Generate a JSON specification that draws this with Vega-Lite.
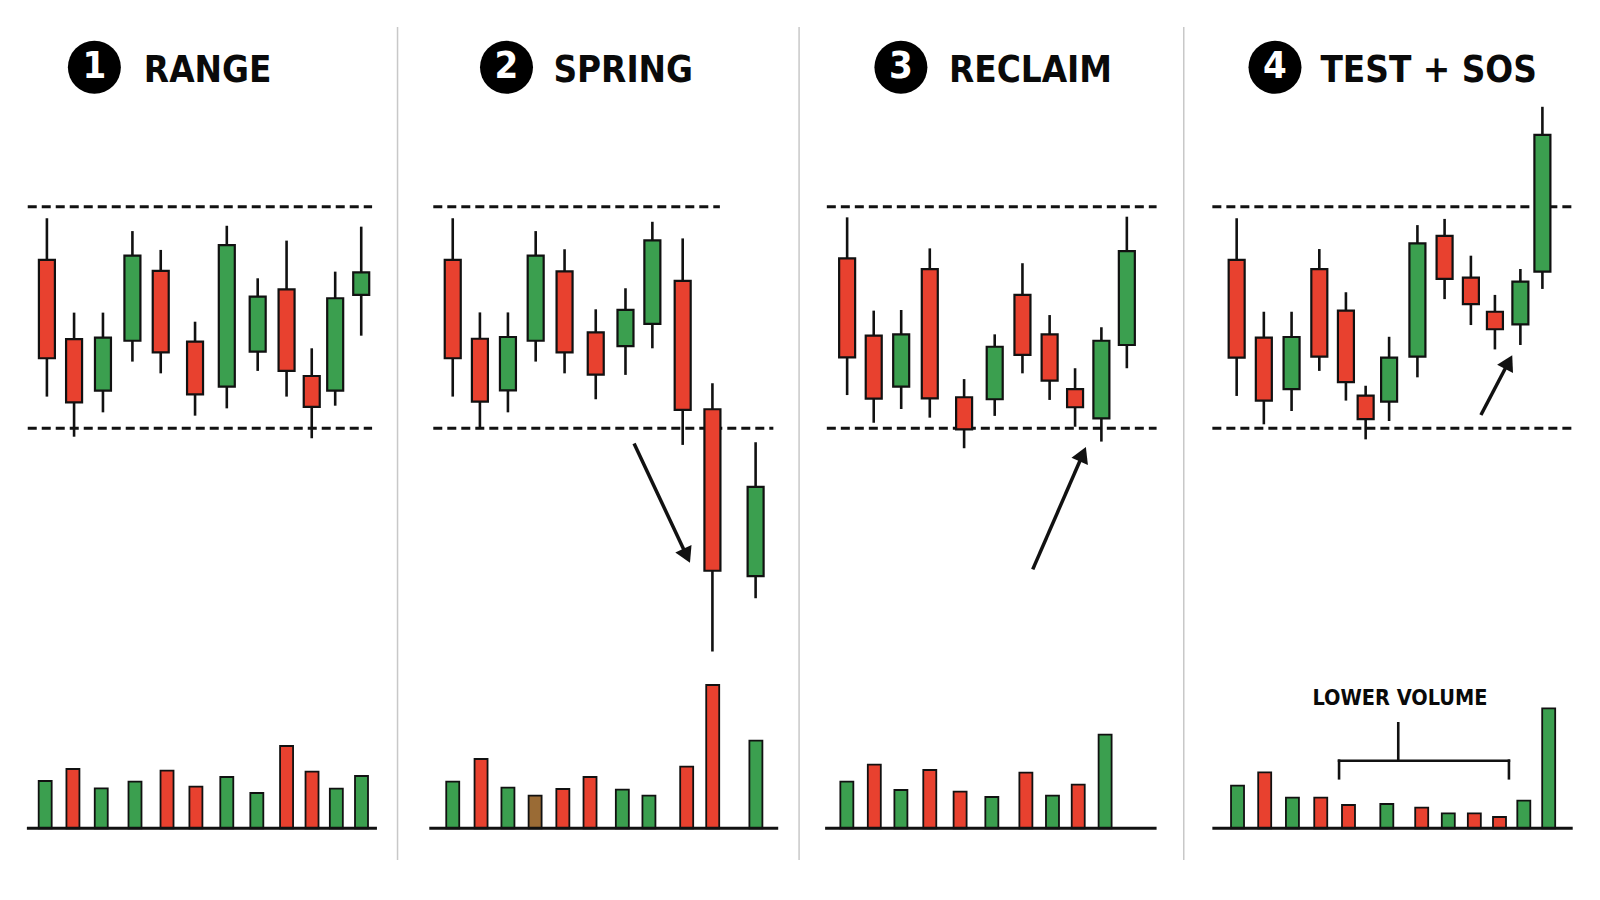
{
  "$schema": "https://vega.github.io/schema/vega-lite/v6.json",
  "width": 1600,
  "height": 900,
  "padding": 0,
  "autosize": {"type": "none"},
  "background": "white",
  "config": {"view": {"stroke": null}, "scale": {"continuousPadding": 0}},
  "datasets": {
    "candles": [
      {"panel": 1, "t": 1.64, "open": 107.60, "close": 103.16, "high": 109.48, "low": 101.43, "dir": "down"},
      {"panel": 1, "t": 2.59, "open": 104.02, "close": 101.17, "high": 105.22, "low": 99.62, "dir": "down"},
      {"panel": 1, "t": 3.60, "open": 101.70, "close": 104.09, "high": 105.22, "low": 100.72, "dir": "up"},
      {"panel": 1, "t": 4.63, "open": 103.95, "close": 107.79, "high": 108.90, "low": 103.01, "dir": "up"},
      {"panel": 1, "t": 5.62, "open": 107.10, "close": 103.43, "high": 108.05, "low": 102.48, "dir": "down"},
      {"panel": 1, "t": 6.82, "open": 103.91, "close": 101.53, "high": 104.81, "low": 100.57, "dir": "down"},
      {"panel": 1, "t": 7.93, "open": 101.88, "close": 108.27, "high": 109.14, "low": 100.90, "dir": "up"},
      {"panel": 1, "t": 9.01, "open": 103.46, "close": 105.94, "high": 106.77, "low": 102.59, "dir": "up"},
      {"panel": 1, "t": 10.02, "open": 106.27, "close": 102.59, "high": 108.47, "low": 101.43, "dir": "down"},
      {"panel": 1, "t": 10.90, "open": 102.36, "close": 100.97, "high": 103.61, "low": 99.55, "dir": "down"},
      {"panel": 1, "t": 11.72, "open": 101.70, "close": 105.87, "high": 107.07, "low": 101.02, "dir": "up"},
      {"panel": 1, "t": 12.63, "open": 106.02, "close": 107.04, "high": 109.10, "low": 104.18, "dir": "up"},
      {"panel": 2, "t": 15.83, "open": 107.60, "close": 103.16, "high": 109.48, "low": 101.43, "dir": "down"},
      {"panel": 2, "t": 16.78, "open": 104.04, "close": 101.20, "high": 105.23, "low": 100.00, "dir": "down"},
      {"panel": 2, "t": 17.76, "open": 101.71, "close": 104.12, "high": 105.23, "low": 100.72, "dir": "up"},
      {"panel": 2, "t": 18.73, "open": 103.95, "close": 107.79, "high": 108.90, "low": 103.01, "dir": "up"},
      {"panel": 2, "t": 19.74, "open": 107.08, "close": 103.43, "high": 108.08, "low": 102.48, "dir": "down"},
      {"panel": 2, "t": 20.83, "open": 104.33, "close": 102.42, "high": 105.37, "low": 101.31, "dir": "down"},
      {"panel": 2, "t": 21.87, "open": 103.71, "close": 105.34, "high": 106.32, "low": 102.41, "dir": "up"},
      {"panel": 2, "t": 22.81, "open": 104.71, "close": 108.48, "high": 109.32, "low": 103.61, "dir": "up"},
      {"panel": 2, "t": 23.87, "open": 106.65, "close": 100.83, "high": 108.57, "low": 99.25, "dir": "down"},
      {"panel": 2, "t": 24.91, "open": 100.86, "close": 93.57, "high": 102.03, "low": 89.92, "dir": "down"},
      {"panel": 2, "t": 26.42, "open": 93.33, "close": 97.36, "high": 99.37, "low": 92.33, "dir": "up"},
      {"panel": 3, "t": 29.62, "open": 107.67, "close": 103.20, "high": 109.52, "low": 101.50, "dir": "down"},
      {"panel": 3, "t": 30.55, "open": 104.18, "close": 101.34, "high": 105.31, "low": 100.25, "dir": "down"},
      {"panel": 3, "t": 31.51, "open": 101.88, "close": 104.24, "high": 105.34, "low": 100.87, "dir": "up"},
      {"panel": 3, "t": 32.51, "open": 107.18, "close": 101.35, "high": 108.12, "low": 100.48, "dir": "down"},
      {"panel": 3, "t": 33.71, "open": 101.40, "close": 99.95, "high": 102.22, "low": 99.10, "dir": "down"},
      {"panel": 3, "t": 34.78, "open": 101.31, "close": 103.68, "high": 104.24, "low": 100.56, "dir": "up"},
      {"panel": 3, "t": 35.75, "open": 106.02, "close": 103.31, "high": 107.45, "low": 102.48, "dir": "down"},
      {"panel": 3, "t": 36.70, "open": 104.24, "close": 102.15, "high": 105.11, "low": 101.28, "dir": "down"},
      {"panel": 3, "t": 37.59, "open": 101.77, "close": 100.95, "high": 102.71, "low": 100.07, "dir": "down"},
      {"panel": 3, "t": 38.51, "open": 100.45, "close": 103.95, "high": 104.56, "low": 99.40, "dir": "up"},
      {"panel": 3, "t": 39.40, "open": 103.76, "close": 108.00, "high": 109.55, "low": 102.71, "dir": "up"},
      {"panel": 4, "t": 43.24, "open": 107.60, "close": 103.19, "high": 109.48, "low": 101.46, "dir": "down"},
      {"panel": 4, "t": 44.19, "open": 104.09, "close": 101.25, "high": 105.26, "low": 100.18, "dir": "down"},
      {"panel": 4, "t": 45.16, "open": 101.77, "close": 104.12, "high": 105.26, "low": 100.78, "dir": "up"},
      {"panel": 4, "t": 46.13, "open": 107.18, "close": 103.23, "high": 108.09, "low": 102.59, "dir": "down"},
      {"panel": 4, "t": 47.06, "open": 105.31, "close": 102.08, "high": 106.14, "low": 101.25, "dir": "down"},
      {"panel": 4, "t": 47.75, "open": 101.47, "close": 100.41, "high": 101.92, "low": 99.50, "dir": "down"},
      {"panel": 4, "t": 48.57, "open": 101.20, "close": 103.19, "high": 104.13, "low": 100.33, "dir": "up"},
      {"panel": 4, "t": 49.56, "open": 103.23, "close": 108.35, "high": 109.17, "low": 102.30, "dir": "up"},
      {"panel": 4, "t": 50.51, "open": 108.68, "close": 106.74, "high": 109.45, "low": 105.83, "dir": "down"},
      {"panel": 4, "t": 51.43, "open": 106.80, "close": 105.60, "high": 107.79, "low": 104.66, "dir": "down"},
      {"panel": 4, "t": 52.27, "open": 105.26, "close": 104.47, "high": 106.02, "low": 103.56, "dir": "down"},
      {"panel": 4, "t": 53.16, "open": 104.69, "close": 106.62, "high": 107.19, "low": 103.76, "dir": "up"},
      {"panel": 4, "t": 53.93, "open": 107.07, "close": 113.24, "high": 114.51, "low": 106.29, "dir": "up"}
    ],
    "volume": [
      {"panel": 1, "t": 1.58, "vol": 47.3, "dir": "up"},
      {"panel": 1, "t": 2.55, "vol": 59.3, "dir": "down"},
      {"panel": 1, "t": 3.54, "vol": 40.0, "dir": "up"},
      {"panel": 1, "t": 4.72, "vol": 46.6, "dir": "up"},
      {"panel": 1, "t": 5.84, "vol": 57.6, "dir": "down"},
      {"panel": 1, "t": 6.85, "vol": 41.6, "dir": "down"},
      {"panel": 1, "t": 7.93, "vol": 51.3, "dir": "up"},
      {"panel": 1, "t": 8.98, "vol": 35.3, "dir": "up"},
      {"panel": 1, "t": 10.02, "vol": 82.3, "dir": "down"},
      {"panel": 1, "t": 10.91, "vol": 56.6, "dir": "down"},
      {"panel": 1, "t": 11.76, "vol": 39.6, "dir": "up"},
      {"panel": 1, "t": 12.64, "vol": 52.3, "dir": "up"},
      {"panel": 2, "t": 15.83, "vol": 46.6, "dir": "up"},
      {"panel": 2, "t": 16.82, "vol": 69.3, "dir": "down"},
      {"panel": 2, "t": 17.76, "vol": 40.6, "dir": "up"},
      {"panel": 2, "t": 18.71, "vol": 32.6, "dir": "flat"},
      {"panel": 2, "t": 19.68, "vol": 39.3, "dir": "down"},
      {"panel": 2, "t": 20.63, "vol": 51.3, "dir": "down"},
      {"panel": 2, "t": 21.76, "vol": 38.6, "dir": "up"},
      {"panel": 2, "t": 22.69, "vol": 32.6, "dir": "up"},
      {"panel": 2, "t": 24.01, "vol": 61.6, "dir": "down"},
      {"panel": 2, "t": 24.92, "vol": 143.3, "dir": "down"},
      {"panel": 2, "t": 26.43, "vol": 87.6, "dir": "up"},
      {"panel": 3, "t": 29.61, "vol": 46.6, "dir": "up"},
      {"panel": 3, "t": 30.57, "vol": 63.6, "dir": "down"},
      {"panel": 3, "t": 31.50, "vol": 38.3, "dir": "up"},
      {"panel": 3, "t": 32.51, "vol": 58.3, "dir": "down"},
      {"panel": 3, "t": 33.57, "vol": 36.6, "dir": "down"},
      {"panel": 3, "t": 34.68, "vol": 31.3, "dir": "up"},
      {"panel": 3, "t": 35.87, "vol": 55.6, "dir": "down"},
      {"panel": 3, "t": 36.80, "vol": 32.6, "dir": "up"},
      {"panel": 3, "t": 37.70, "vol": 43.6, "dir": "down"},
      {"panel": 3, "t": 38.64, "vol": 93.6, "dir": "up"},
      {"panel": 4, "t": 43.27, "vol": 42.6, "dir": "up"},
      {"panel": 4, "t": 44.22, "vol": 56.0, "dir": "down"},
      {"panel": 4, "t": 45.19, "vol": 30.6, "dir": "up"},
      {"panel": 4, "t": 46.18, "vol": 30.6, "dir": "down"},
      {"panel": 4, "t": 47.15, "vol": 23.3, "dir": "down"},
      {"panel": 4, "t": 48.49, "vol": 24.3, "dir": "up"},
      {"panel": 4, "t": 49.71, "vol": 20.6, "dir": "down"},
      {"panel": 4, "t": 50.64, "vol": 15.0, "dir": "up"},
      {"panel": 4, "t": 51.55, "vol": 15.0, "dir": "down"},
      {"panel": 4, "t": 52.43, "vol": 11.3, "dir": "down"},
      {"panel": 4, "t": 53.28, "vol": 27.6, "dir": "up"},
      {"panel": 4, "t": 54.15, "vol": 120.0, "dir": "up"}
    ],
    "levels": [
      {"panel": 1, "level": "resistance", "t0": 0.97, "t1": 13.01, "price": 110},
      {"panel": 1, "level": "support", "t0": 0.97, "t1": 13.01, "price": 100},
      {"panel": 2, "level": "resistance", "t0": 15.15, "t1": 25.17, "price": 110},
      {"panel": 2, "level": "support", "t0": 15.15, "t1": 27.04, "price": 100},
      {"panel": 3, "level": "resistance", "t0": 28.91, "t1": 40.44, "price": 110},
      {"panel": 3, "level": "support", "t0": 28.91, "t1": 40.44, "price": 100},
      {"panel": 4, "level": "resistance", "t0": 42.39, "t1": 55.01, "price": 110},
      {"panel": 4, "level": "support", "t0": 42.39, "t1": 55.01, "price": 100}
    ],
    "baselines": [
      {"panel": 1, "t0": 0.94, "t1": 13.18},
      {"panel": 2, "t0": 15.01, "t1": 27.21},
      {"panel": 3, "t0": 28.85, "t1": 40.44},
      {"panel": 4, "t0": 42.39, "t1": 54.99}
    ],
    "separators": [
      {"t": 13.90, "p0": 80.52, "p1": 118.11},
      {"t": 27.94, "p0": 80.52, "p1": 118.11},
      {"t": 41.39, "p0": 80.52, "p1": 118.11}
    ],
    "titles": [
      {"panel": 1, "num": "1", "label": "RANGE", "t": 3.30, "tl": 5.03, "price": 116.29, "base": 115.63},
      {"panel": 2, "num": "2", "label": "SPRING", "t": 17.71, "tl": 19.35, "price": 116.29, "base": 115.63},
      {"panel": 3, "num": "3", "label": "RECLAIM", "t": 31.50, "tl": 33.18, "price": 116.29, "base": 115.63},
      {"panel": 4, "num": "4", "label": "TEST + SOS", "t": 44.58, "tl": 46.17, "price": 116.29, "base": 115.63}
    ],
    "arrows": [
      {"panel": 2, "t0": 22.17, "p0": 99.31, "t1": 24.01, "p1": 94.25},
      {"panel": 3, "t0": 36.11, "p0": 93.63, "t1": 37.86, "p1": 98.83},
      {"panel": 4, "t0": 51.78, "p0": 100.60, "t1": 52.75, "p1": 102.99}
    ],
    "bracket": [
      {"seg": "stem", "t0": 48.89, "v0": 105.0, "t1": 48.89, "v1": 67.6},
      {"seg": "bar", "t0": 46.82, "v0": 67.6, "t1": 52.76, "v1": 67.6},
      {"seg": "left", "t0": 46.82, "v0": 67.6, "t1": 46.82, "v1": 50.0},
      {"seg": "right", "t0": 52.76, "v0": 67.6, "t1": 52.76, "v1": 50.0}
    ],
    "notes": [
      {"panel": 4, "text": "LOWER VOLUME", "t": 48.95, "vol": 129}
    ]
  },
  "resolve": {"scale": {"y": "independent"}},
  "layer": [
    {
      "layer": [
        {
          "data": {"name": "separators"},
          "mark": {"type": "rule", "color": "#c8c8c8", "strokeWidth": 1.5},
          "encoding": {
            "x": {"field": "t", "type": "quantitative", "scale": {"domain": [0, 55.944], "padding": 0}, "axis": null},
            "y": {"field": "p0", "type": "quantitative", "scale": {"domain": [78.71, 119.33], "zero": false, "nice": false}, "axis": null},
            "y2": {"field": "p1"}
          }
        },
        {
          "data": {"name": "levels"},
          "mark": {"type": "rule", "color": "#111111", "strokeWidth": 3, "strokeDash": [9, 5]},
          "encoding": {
            "x": {"field": "t0", "type": "quantitative", "scale": {"domain": [0, 55.944], "padding": 0}, "axis": null},
            "x2": {"field": "t1"},
            "y": {"field": "price", "type": "quantitative", "scale": {"domain": [78.71, 119.33], "zero": false, "nice": false}, "axis": null}
          }
        },
        {
          "data": {"name": "candles"},
          "mark": {"type": "rule", "color": "#111111", "strokeWidth": 2.6},
          "encoding": {
            "x": {"field": "t", "type": "quantitative", "scale": {"domain": [0, 55.944], "padding": 0}, "axis": null},
            "y": {"field": "low", "type": "quantitative", "scale": {"domain": [78.71, 119.33], "zero": false, "nice": false}, "axis": null},
            "y2": {"field": "high"}
          }
        },
        {
          "data": {"name": "candles"},
          "mark": {"type": "bar", "orient": "vertical", "size": 16, "stroke": "#111111", "strokeWidth": 2.2},
          "encoding": {
            "x": {"field": "t", "type": "quantitative", "scale": {"domain": [0, 55.944], "padding": 0}, "axis": null},
            "y": {"field": "open", "type": "quantitative", "scale": {"domain": [78.71, 119.33], "zero": false, "nice": false}, "axis": null},
            "y2": {"field": "close"},
            "fill": {"field": "dir", "type": "nominal", "scale": {"domain": ["up", "down", "flat"], "range": ["#3b9f4f", "#e8412f", "#9a6b35"]}, "legend": null}
          }
        },
        {
          "data": {"name": "arrows"},
          "mark": {"type": "rule", "color": "#111111", "strokeWidth": 3.5},
          "encoding": {
            "x": {"field": "t0", "type": "quantitative", "scale": {"domain": [0, 55.944], "padding": 0}, "axis": null},
            "y": {"field": "p0", "type": "quantitative", "scale": {"domain": [78.71, 119.33], "zero": false, "nice": false}, "axis": null},
            "x2": {"field": "t1"},
            "y2": {"field": "p1"}
          }
        },
        {
          "data": {"name": "arrows"},
          "transform": [{"filter": "datum.panel == 2"}],
          "mark": {"type": "point", "shape": "triangle-up", "filled": true, "color": "#111111", "opacity": 1, "size": 320, "angle": 155},
          "encoding": {
            "x": {"field": "t1", "type": "quantitative", "scale": {"domain": [0, 55.944], "padding": 0}, "axis": null},
            "y": {"field": "p1", "type": "quantitative", "scale": {"domain": [78.71, 119.33], "zero": false, "nice": false}, "axis": null}
          }
        },
        {
          "data": {"name": "arrows"},
          "transform": [{"filter": "datum.panel == 3"}],
          "mark": {"type": "point", "shape": "triangle-up", "filled": true, "color": "#111111", "opacity": 1, "size": 320, "angle": 23.5},
          "encoding": {
            "x": {"field": "t1", "type": "quantitative", "scale": {"domain": [0, 55.944], "padding": 0}, "axis": null},
            "y": {"field": "p1", "type": "quantitative", "scale": {"domain": [78.71, 119.33], "zero": false, "nice": false}, "axis": null}
          }
        },
        {
          "data": {"name": "arrows"},
          "transform": [{"filter": "datum.panel == 4"}],
          "mark": {"type": "point", "shape": "triangle-up", "filled": true, "color": "#111111", "opacity": 1, "size": 320, "angle": 27.5},
          "encoding": {
            "x": {"field": "t1", "type": "quantitative", "scale": {"domain": [0, 55.944], "padding": 0}, "axis": null},
            "y": {"field": "p1", "type": "quantitative", "scale": {"domain": [78.71, 119.33], "zero": false, "nice": false}, "axis": null}
          }
        },
        {
          "data": {"name": "titles"},
          "mark": {"type": "point", "shape": "circle", "filled": true, "color": "#000000", "opacity": 1, "size": 2809},
          "encoding": {
            "x": {"field": "t", "type": "quantitative", "scale": {"domain": [0, 55.944], "padding": 0}, "axis": null},
            "y": {"field": "price", "type": "quantitative", "scale": {"domain": [78.71, 119.33], "zero": false, "nice": false}, "axis": null}
          }
        },
        {
          "data": {"name": "titles"},
          "mark": {"type": "text", "color": "#ffffff", "font": "DejaVu Sans Condensed, sans-serif", "fontWeight": "bold", "fontSize": 38, "align": "center", "baseline": "middle"},
          "encoding": {
            "x": {"field": "t", "type": "quantitative", "scale": {"domain": [0, 55.944], "padding": 0}, "axis": null},
            "y": {"field": "price", "type": "quantitative", "scale": {"domain": [78.71, 119.33], "zero": false, "nice": false}, "axis": null},
            "text": {"field": "num"}
          }
        },
        {
          "data": {"name": "titles"},
          "mark": {"type": "text", "color": "#0a0a0a", "font": "DejaVu Sans Condensed, sans-serif", "fontWeight": "bold", "fontSize": 36.5, "align": "left", "baseline": "alphabetic"},
          "encoding": {
            "x": {"field": "tl", "type": "quantitative", "scale": {"domain": [0, 55.944], "padding": 0}, "axis": null},
            "y": {"field": "base", "type": "quantitative", "scale": {"domain": [78.71, 119.33], "zero": false, "nice": false}, "axis": null},
            "text": {"field": "label"}
          }
        }
      ]
    },
    {
      "layer": [
        {
          "data": {"name": "volume"},
          "mark": {"type": "bar", "orient": "vertical", "size": 13, "stroke": "#111111", "strokeWidth": 1.8},
          "encoding": {
            "x": {"field": "t", "type": "quantitative", "scale": {"domain": [0, 55.944], "padding": 0}, "axis": null},
            "y": {"field": "vol", "type": "quantitative", "scale": {"domain": [-71.7, 828.3], "zero": false, "nice": false}, "axis": null},
            "y2": {"datum": 0},
            "fill": {"field": "dir", "type": "nominal", "scale": {"domain": ["up", "down", "flat"], "range": ["#3b9f4f", "#e8412f", "#9a6b35"]}, "legend": null}
          }
        },
        {
          "data": {"name": "baselines"},
          "mark": {"type": "rule", "color": "#111111", "strokeWidth": 3},
          "encoding": {
            "x": {"field": "t0", "type": "quantitative", "scale": {"domain": [0, 55.944], "padding": 0}, "axis": null},
            "x2": {"field": "t1"},
            "y": {"datum": 0, "type": "quantitative", "scale": {"domain": [-71.7, 828.3], "zero": false, "nice": false}, "axis": null}
          }
        },
        {
          "data": {"name": "bracket"},
          "mark": {"type": "rule", "color": "#111111", "strokeWidth": 2.6, "strokeCap": "square"},
          "encoding": {
            "x": {"field": "t0", "type": "quantitative", "scale": {"domain": [0, 55.944], "padding": 0}, "axis": null},
            "x2": {"field": "t1"},
            "y": {"field": "v0", "type": "quantitative", "scale": {"domain": [-71.7, 828.3], "zero": false, "nice": false}, "axis": null},
            "y2": {"field": "v1"}
          }
        },
        {
          "data": {"name": "notes"},
          "mark": {"type": "text", "color": "#0a0a0a", "font": "DejaVu Sans Condensed, sans-serif", "fontWeight": "bold", "fontSize": 21.5, "align": "center", "baseline": "middle"},
          "encoding": {
            "x": {"field": "t", "type": "quantitative", "scale": {"domain": [0, 55.944], "padding": 0}, "axis": null},
            "y": {"field": "vol", "type": "quantitative", "scale": {"domain": [-71.7, 828.3], "zero": false, "nice": false}, "axis": null},
            "text": {"field": "text"}
          }
        }
      ]
    }
  ]
}
